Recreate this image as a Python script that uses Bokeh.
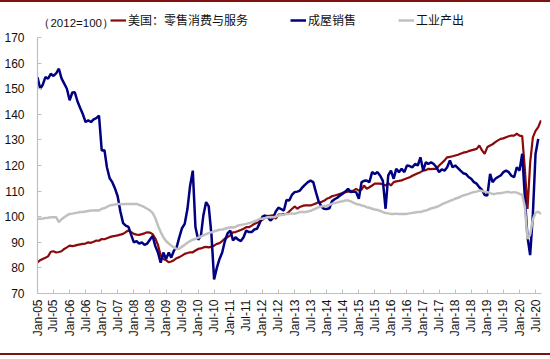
import math
import numpy as np
import pandas as pd
from bokeh.plotting import figure
from bokeh.models import (Range1d, MonthsTicker, DatetimeTickFormatter, FixedTicker,
                          Legend, LegendItem, Label, ColumnDataSource)
from bokeh.embed import file_html
from bokeh.resources import INLINE

# ---------------- data (monthly, Jan-2005 onwards, index 2012=100) ----------------
first_month = "2005-01-01"
series_names = ["美国：零售消费与服务", "成屋销售", "工业产出"]
unit_note = "（2012=100）"
y_ticks = [70, 80, 90, 100, 110, 120, 130, 140, 150, 160, 170]

retail_services = [
    82.2, 83.0, 83.5, 84.0, 84.5, 86.3, 86.5, 86.0, 86.2, 86.5, 87.4, 88.0,
    88.7, 88.5, 88.7, 89.0, 89.2, 89.4, 89.5, 90.0, 89.8, 90.2, 90.7, 90.6,
    91.3, 91.2, 91.6, 92.0, 92.3, 92.5, 92.7, 93.0, 93.3, 94.0, 94.6, 94.0,
    93.3, 93.0, 92.9, 93.2, 93.5, 93.9, 93.8, 93.2, 91.5, 89.0, 84.8, 83.5,
    83.0, 82.2, 82.5, 83.0, 83.8, 84.2, 84.8, 85.5, 85.8, 86.1, 86.1, 86.8,
    87.4, 87.6, 88.0, 88.2, 88.0, 88.3, 88.7, 89.4, 89.7, 90.5, 91.5, 92.0,
    92.7, 93.9, 94.0, 94.4, 94.8, 95.3, 95.9, 95.9, 96.5, 97.2, 97.6, 98.2,
    98.8, 99.6, 100.3, 100.4, 100.5, 99.2, 100.8, 100.8, 101.0, 101.1, 102.0, 103.0,
    104.0, 103.1, 103.8, 104.2, 104.4, 104.4, 104.4, 104.8, 105.2, 105.7, 105.7, 106.2,
    107.0, 107.4, 108.0, 108.3, 108.6, 108.9, 109.3, 109.6, 109.8, 110.0, 110.2, 110.9,
    110.2, 110.6, 112.2, 110.9, 111.5, 112.2, 112.9, 112.9, 112.9, 112.6, 112.2, 113.1,
    112.2, 113.5, 113.8, 114.0, 114.2, 114.6, 115.0, 115.4, 116.0, 116.5, 117.0, 117.4,
    118.0, 118.2, 118.7, 118.6, 118.7, 118.7, 120.0, 121.0, 122.0, 123.2, 123.4, 123.6,
    123.9, 124.2, 124.6, 125.0, 125.2, 125.6, 125.9, 126.2, 126.5, 127.8, 125.9, 124.6,
    127.2, 127.8, 128.3, 129.1, 129.8, 130.4, 130.6, 131.0, 131.4, 131.7, 131.7, 132.4,
    131.7, 131.5, 119.0, 103.0, 121.0, 131.0, 133.5, 135.0, 137.6,
]

existing_home_sales = [
    154.5, 150.0, 151.5, 154.5, 153.9, 155.8, 155.0, 156.0, 157.8, 154.0, 152.0, 150.0,
    145.5, 148.5, 148.6, 145.0, 142.5, 140.0, 137.0, 137.6, 137.0, 138.0, 138.5, 139.5,
    125.9, 126.0, 119.3, 115.0, 113.5, 111.0, 108.0, 102.0, 97.5, 96.5, 96.0, 93.0,
    90.0, 90.5, 89.5, 90.0, 89.0, 89.5, 91.0, 92.5, 88.5, 86.0, 82.0, 86.0,
    83.5, 86.0, 84.0, 86.8, 88.0, 92.0, 95.5, 97.2, 103.0, 112.0, 118.0, 96.0,
    91.0, 92.5, 100.5, 105.7, 104.0, 93.0, 75.5, 80.0, 83.5, 86.0, 90.5, 93.5,
    94.6, 90.7, 92.0, 91.0, 90.5, 92.0, 94.6, 94.0, 94.0, 95.0, 95.3, 97.5,
    100.0, 100.5, 99.8, 98.5, 99.5, 102.0, 103.5, 103.0, 102.4, 106.5, 106.3, 108.5,
    109.6, 109.8, 110.2, 111.5, 112.5, 113.5, 114.1, 113.5, 109.5, 106.0, 104.0, 103.1,
    103.0, 103.3, 106.0, 106.8, 107.4, 108.3, 109.0, 109.8, 110.9, 109.6, 109.8, 109.6,
    107.0, 113.5, 114.0, 114.1, 113.5, 117.4, 116.7, 117.4, 116.0, 114.0, 103.1, 116.1,
    118.0, 114.8, 118.7, 117.4, 118.7, 117.4, 120.0, 119.8, 119.3, 120.6, 120.0, 123.2,
    118.0, 121.3, 120.6, 121.3, 120.6, 119.3, 117.4, 118.5, 118.0, 119.3, 122.0, 119.3,
    120.0, 119.0, 118.0, 117.0, 116.7, 115.5, 114.8, 113.5, 112.9, 111.5, 110.5, 108.5,
    108.3, 116.7, 113.5, 114.8, 115.5, 116.1, 117.4, 118.0, 117.4, 116.0, 115.4, 119.3,
    118.0, 124.6, 108.0, 92.0, 85.0, 101.0, 124.5, 130.4,
]

industrial_output = [
    99.2, 99.2, 99.3, 99.5, 99.6, 99.8, 99.8, 99.8, 97.9, 99.0, 99.8, 100.5,
    101.1, 101.2, 101.4, 101.6, 101.8, 101.8, 102.0, 102.2, 102.4, 102.4, 102.5, 102.4,
    103.1, 103.3, 103.8, 104.4, 104.6, 104.8, 105.0, 105.0, 104.9, 105.0, 105.0, 105.0,
    105.0, 105.0, 104.6, 104.2, 103.7, 103.1, 102.5, 101.5, 99.5, 96.5, 94.0, 92.0,
    90.5, 89.5, 88.7, 88.0, 87.4, 87.5, 88.3, 89.0, 89.8, 90.5, 91.0, 91.3,
    91.8, 92.2, 92.7, 93.2, 93.6, 93.9, 94.3, 94.6, 94.9, 95.0, 95.3, 95.6,
    95.9, 95.8, 96.0, 96.6, 96.8, 97.0, 97.2, 97.5, 97.8, 98.2, 98.5, 99.2,
    99.2, 99.5, 99.8, 99.8, 99.8, 100.0, 100.5, 100.7, 100.8, 101.1, 101.1, 101.3,
    101.1, 101.5, 101.8, 101.8, 101.8, 102.0, 102.3, 102.8, 103.2, 103.7, 104.0, 104.2,
    104.3, 104.6, 105.0, 105.3, 105.6, 105.8, 106.0, 106.3, 106.3, 106.0, 105.5, 105.0,
    104.8, 104.4, 104.2, 103.7, 103.5, 103.1, 102.8, 102.6, 102.3, 101.8, 101.4, 101.3,
    101.1, 101.1, 101.2, 101.1, 101.1, 101.1, 101.1, 101.3, 101.5, 101.6, 101.8, 101.8,
    102.2, 102.4, 102.8, 103.2, 103.5, 103.8, 104.2, 104.8, 105.3, 105.7, 106.2, 106.6,
    107.0, 107.4, 107.8, 108.3, 108.6, 108.9, 109.3, 109.6, 109.8, 110.2, 110.0, 109.8,
    109.6, 109.2, 108.9, 108.9, 109.2, 109.2, 109.4, 109.6, 109.6, 109.4, 109.6, 109.4,
    108.9, 108.5, 104.0, 91.3, 93.0, 99.0, 101.5, 102.0, 101.0,
]

# ---------------- styling ----------------
RED = "#8B0A0A"
BLUE = "#000080"
GREY = "#C0C0C0"
AXIS_GREY = "#BFBFBF"
FRAME_RED = "#7F1010"

dates = pd.date_range(first_month, periods=len(retail_services), freq="MS")
home = existing_home_sales + [np.nan] * (len(dates) - len(existing_home_sales))
src = ColumnDataSource(dict(date=dates, retail=retail_services, home=home,
                            ind=industrial_output))

# frame extends above 170 so the legend row sits inside it; the y axis is
# bounded to 70-170 so its line stops at the top tick like the reference
p = figure(width=550, height=355, output_backend="svg", toolbar_location=None,
           x_axis_type="datetime",
           x_range=Range1d(pd.Timestamp("2005-01-01"), pd.Timestamp("2020-09-07")),
           y_range=Range1d(y_ticks[0], 182.5),
           min_border_left=37, min_border_right=9, min_border_top=3,
           min_border_bottom=64)
p.styles = {"border-top": f"2px solid {FRAME_RED}",
            "border-bottom": f"2px solid {FRAME_RED}"}
p.outline_line_color = None
p.xgrid.grid_line_color = None
p.ygrid.grid_line_color = None
p.background_fill_color = "white"
p.border_fill_color = "white"

r_red = p.line("date", "retail", source=src, color=RED, line_width=2.2)
r_blue = p.line("date", "home", source=src, color=BLUE, line_width=2.5)
r_grey = p.line("date", "ind", source=src, color=GREY, line_width=2.5)

# axes
p.yaxis.ticker = FixedTicker(ticks=y_ticks)
p.yaxis.bounds = (y_ticks[0], y_ticks[-1])
p.xaxis.ticker = MonthsTicker(months=[0, 6])
p.xaxis.formatter = DatetimeTickFormatter(months="%b-%y", years="%b-%y",
                                          days="%b-%y")
p.xaxis.major_label_orientation = math.pi / 2
for ax in (p.xaxis, p.yaxis):
    ax.axis_line_color = AXIS_GREY
    ax.axis_line_width = 1.2
    ax.major_tick_line_color = AXIS_GREY
    ax.major_tick_in = 4
    ax.major_tick_out = 0
    ax.minor_tick_line_color = None
    ax.major_label_text_font = "Liberation Sans"
    ax.major_label_text_font_size = "12px"
    ax.major_label_text_color = "#111111"
p.yaxis.major_label_standoff = 13
p.xaxis.major_label_standoff = 6

legend = Legend(items=[LegendItem(label=series_names[0], renderers=[r_red]),
                       LegendItem(label=series_names[1], renderers=[r_blue]),
                       LegendItem(label=series_names[2], renderers=[r_grey])],
                orientation="horizontal", location=(73, 265),
                glyph_width=16, glyph_height=14, label_height=14,
                label_standoff=2, spacing=42, padding=0, margin=0,
                border_line_color=None, background_fill_alpha=0,
                label_text_font="Noto Sans CJK SC", label_text_font_size="12px",
                label_text_color="#111111")
p.add_layout(legend)

p.add_layout(Label(x=pd.Timestamp("2005-01-12"), y=175.5, text=unit_note,
                   text_font="Liberation Sans", text_font_size="11.5px",
                   text_baseline="middle", text_color="#111111"))

open("out.html", "w").write(file_html(p, INLINE))
